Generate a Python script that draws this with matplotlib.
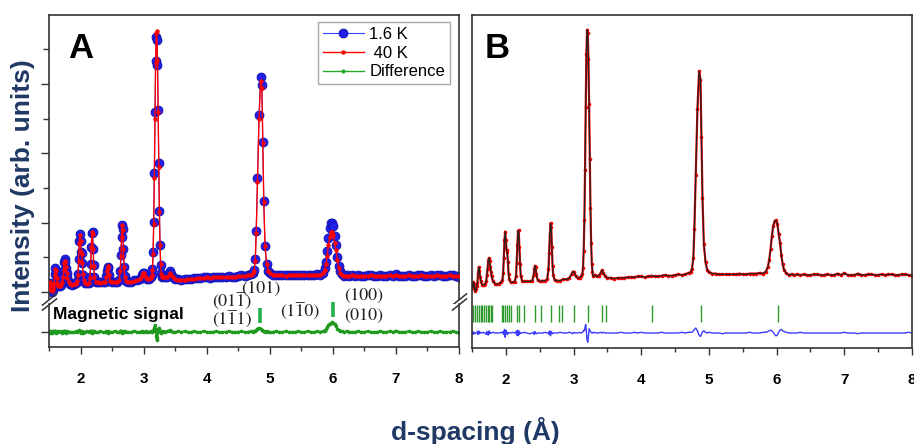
import numpy as np
import matplotlib
matplotlib.use("Agg")
import matplotlib.pyplot as plt
from matplotlib.ticker import MultipleLocator, FixedLocator

plt.rcParams['font.family'] = ['Liberation Sans', 'DejaVu Sans']

# d-spacing grid (A) in chunks
d = [1.50, 1.51, 1.52, 1.53, 1.54, 1.55, 1.56, 1.57, 1.58, 1.59, 1.60, 1.61, 1.62, 1.63,
     1.65, 1.67, 1.69, 1.71, 1.72, 1.73, 1.74, 1.75, 1.76, 1.77, 1.78, 1.79, 1.81, 1.84,
     1.87, 1.90, 1.93, 1.95, 1.96, 1.97, 1.98, 1.99, 2.00, 2.01, 2.02, 2.03, 2.04, 2.05,
     2.07, 2.10, 2.13, 2.15, 2.16, 2.17, 2.18, 2.19, 2.20, 2.21, 2.22, 2.24,
     2.27, 2.31, 2.35, 2.39, 2.41, 2.42, 2.43, 2.44, 2.45, 2.47,
     2.50, 2.54, 2.58, 2.61, 2.63, 2.64, 2.65, 2.66, 2.67, 2.68, 2.69, 2.70, 2.72,
     2.76, 2.80, 2.85, 2.90, 2.94, 2.97, 2.99, 3.01, 3.03, 3.06, 3.09, 3.11,
     3.13, 3.14, 3.15, 3.16, 3.17, 3.18, 3.19, 3.20, 3.21, 3.22, 3.23, 3.24, 3.25, 3.26, 3.27, 3.28, 3.29,
     3.31, 3.34, 3.37, 3.40, 3.42, 3.44, 3.47, 3.50, 3.55,
     3.60, 3.65, 3.70, 3.75, 3.80, 3.85, 3.90, 3.95, 4.00, 4.05, 4.10, 4.15, 4.20,
     4.25, 4.30, 4.35, 4.40, 4.45, 4.50, 4.55, 4.60, 4.65, 4.70, 4.73,
     4.75, 4.77, 4.785, 4.805, 4.83, 4.855, 4.875, 4.89, 4.905, 4.925, 4.95, 4.975,
     5.00, 5.05, 5.10, 5.15, 5.20, 5.25, 5.30, 5.35, 5.40, 5.45, 5.50, 5.55, 5.60, 5.65, 5.70, 5.75,
     5.80, 5.84, 5.87, 5.89, 5.91, 5.93, 5.95, 5.97, 5.99, 6.01, 6.03, 6.05, 6.07, 6.09, 6.11, 6.14, 6.18,
     6.22, 6.26, 6.30, 6.35, 6.40, 6.45, 6.50, 6.55, 6.60, 6.65, 6.70, 6.75, 6.80, 6.85, 6.90, 6.95, 7.00, 7.05, 7.10,
     7.15, 7.20, 7.25, 7.30, 7.35, 7.40, 7.45, 7.50, 7.55, 7.60, 7.65, 7.70, 7.75, 7.80, 7.85, 7.90, 7.95, 8.00]

# 40 K pattern (arb. units)
i_40k = [0.05, 0.04, 0.14, 0.10, 0.03, 0.01, 0.03, 0.06, 0.12, 0.24, 0.33, 0.30, 0.20, 0.13,
         0.09, 0.08, 0.10, 0.15, 0.22, 0.32, 0.42, 0.45, 0.43, 0.36, 0.27, 0.20, 0.14, 0.11,
         0.10, 0.11, 0.12, 0.16, 0.25, 0.45, 0.70, 0.82, 0.74, 0.58, 0.55, 0.42, 0.26, 0.17,
         0.13, 0.12, 0.13, 0.20, 0.38, 0.65, 0.86, 0.84, 0.62, 0.38, 0.22, 0.15,
         0.14, 0.13, 0.14, 0.15, 0.22, 0.31, 0.37, 0.34, 0.24, 0.16,
         0.14, 0.14, 0.15, 0.17, 0.30, 0.52, 0.80, 0.97, 0.90, 0.62, 0.36, 0.22, 0.16,
         0.15, 0.15, 0.16, 0.17, 0.19, 0.23, 0.28, 0.27, 0.21, 0.19, 0.19, 0.20,
         0.24, 0.32, 0.55, 0.98, 1.65, 2.50, 3.30, 3.74, 3.76, 3.35, 2.60, 1.80, 1.15, 0.68, 0.40, 0.26, 0.21,
         0.22, 0.21, 0.21, 0.24, 0.27, 0.25, 0.21, 0.19, 0.18,
         0.18, 0.18, 0.19, 0.19, 0.19, 0.20, 0.20, 0.20, 0.21, 0.20, 0.21, 0.21, 0.21,
         0.21, 0.22, 0.22, 0.22, 0.22, 0.23, 0.23, 0.23, 0.24, 0.25, 0.27,
         0.31, 0.45, 0.85, 1.59, 2.50, 3.05, 2.95, 2.15, 1.30, 0.66, 0.40, 0.30,
         0.27, 0.25, 0.24, 0.24, 0.24, 0.23, 0.24, 0.24, 0.24, 0.24, 0.24, 0.24, 0.24, 0.25, 0.25, 0.25,
         0.25, 0.27, 0.32, 0.40, 0.52, 0.68, 0.80, 0.86, 0.86, 0.82, 0.70, 0.60, 0.46, 0.35, 0.28, 0.25, 0.23,
         0.23, 0.23, 0.24, 0.23, 0.23, 0.23, 0.23, 0.23, 0.24, 0.23, 0.23, 0.23, 0.23, 0.23, 0.24, 0.23, 0.24, 0.23, 0.23,
         0.23, 0.24, 0.23, 0.23, 0.23, 0.24, 0.23, 0.23, 0.23, 0.23, 0.24, 0.23, 0.23, 0.23, 0.24, 0.23, 0.23, 0.23]

# magnetic signal: 1.6 K minus 40 K
mag = [0.00, 0.01, -0.01, 0.01, 0.00, -0.01, 0.00, 0.01, 0.00, 0.02, 0.01, -0.01, 0.00, 0.01,
       0.00, 0.01, 0.00, -0.01, 0.01, 0.00, 0.01, 0.02, 0.00, -0.01, 0.00, 0.01, 0.00, 0.00,
       0.00, 0.00, 0.01, 0.00, 0.01, 0.02, 0.03, 0.02, -0.01, 0.00, 0.01, 0.00, -0.01, 0.00,
       0.00, 0.01, 0.00, 0.01, 0.02, 0.00, -0.01, 0.02, 0.00, 0.01, 0.00, 0.00,
       0.00, 0.01, 0.00, 0.00, 0.01, 0.00, -0.01, 0.01, 0.00, 0.00,
       0.00, 0.01, 0.00, 0.00, 0.01, 0.02, 0.00, -0.01, 0.01, 0.00, 0.00, 0.01, 0.00,
       0.00, 0.00, 0.01, 0.00, 0.00, 0.01, 0.00, 0.00, 0.01, 0.00, 0.00, 0.01,
       0.00, 0.01, 0.02, 0.03, 0.06, 0.10, 0.04, -0.06, -0.12, -0.08, 0.03, 0.06, 0.02, 0.00, -0.01, 0.01, 0.00,
       0.01, 0.00, 0.01, 0.02, 0.03, 0.01, 0.00, 0.00, 0.01,
       0.00, 0.01, 0.00, 0.00, 0.01, 0.00, 0.00, 0.01, 0.00, 0.00, 0.00, 0.01, 0.00,
       0.00, 0.00, 0.01, 0.00, 0.00, 0.00, 0.01, 0.00, 0.00, 0.01, 0.00,
       0.01, 0.02, 0.03, 0.05, 0.06, 0.05, 0.03, 0.02, 0.01, 0.00, 0.01, 0.00,
       0.00, 0.00, 0.01, 0.00, 0.00, 0.01, 0.00, 0.00, 0.00, 0.01, 0.00, 0.00, 0.01, 0.00, 0.00, 0.01,
       0.00, 0.01, 0.02, 0.04, 0.07, 0.10, 0.12, 0.13, 0.14, 0.13, 0.11, 0.08, 0.05, 0.03, 0.02, 0.01, 0.00,
       0.01, 0.00, 0.00, 0.00, 0.01, 0.00, 0.00, 0.01, 0.00, 0.00, 0.00, 0.01, 0.00, 0.00, 0.01, 0.00, 0.02, 0.00, 0.00,
       0.00, 0.01, 0.00, 0.00, 0.01, 0.00, 0.00, 0.00, 0.01, 0.00, 0.00, 0.01, 0.00, 0.00, 0.00, 0.01, 0.00, -0.01]

# panel B: observed - calculated
fit_diff = [0.00, 0.02, -0.02, 0.01, 0.00, -0.01, 0.00, 0.01, 0.02, -0.02, 0.03, -0.01, 0.00, 0.01,
            0.00, 0.01, 0.00, -0.02, 0.02, 0.00, -0.03, 0.03, -0.01, 0.01, 0.00, 0.00, 0.01, 0.00,
            0.00, 0.00, 0.01, 0.00, 0.02, -0.02, 0.05, -0.06, 0.04, 0.00, -0.02, 0.01, 0.00, 0.00,
            0.00, 0.01, 0.00, 0.02, -0.03, 0.04, -0.04, 0.03, -0.02, 0.01, 0.00, 0.00,
            0.01, 0.00, -0.01, 0.00, 0.01, -0.02, 0.02, 0.00, -0.01, 0.00,
            0.00, 0.00, 0.01, 0.00, 0.01, -0.02, 0.03, -0.04, 0.02, 0.00, -0.01, 0.00, 0.00,
            0.00, 0.01, 0.00, 0.00, 0.01, 0.00, -0.01, 0.01, 0.00, 0.00, 0.01, 0.00,
            0.01, 0.02, 0.04, 0.03, 0.08, 0.12, 0.02, -0.10, -0.13, -0.05, 0.06, 0.04, 0.02, 0.01, 0.00, 0.01, 0.00,
            0.01, 0.00, 0.00, 0.01, 0.00, 0.01, 0.00, 0.00, 0.00,
            0.00, 0.00, 0.01, 0.00, 0.00, 0.00, 0.01, 0.00, 0.01, 0.00, 0.00, 0.00, 0.00,
            0.00, 0.01, 0.00, 0.00, 0.00, 0.00, 0.00, 0.01, 0.00, 0.01, 0.01,
            0.01, 0.03, 0.05, 0.07, 0.03, -0.03, -0.05, -0.02, 0.02, 0.03, 0.01, 0.00,
            0.01, 0.00, 0.00, 0.00, -0.01, 0.00, 0.00, 0.00, 0.00, 0.00, 0.00, 0.00, 0.01, 0.00, 0.00, 0.00,
            0.01, 0.01, 0.02, 0.03, 0.04, 0.03, 0.01, -0.02, -0.04, -0.03, 0.01, 0.04, 0.05, 0.03, 0.02, 0.01, 0.00,
            0.00, 0.00, 0.00, 0.01, 0.00, 0.00, 0.00, 0.00, 0.00, 0.00, 0.00, 0.00, 0.00, 0.00, 0.00, 0.00, 0.01, 0.00, 0.00,
            0.00, -0.01, 0.00, 0.00, 0.00, 0.00, 0.00, 0.00, 0.00, 0.00, 0.00, 0.00, 0.00, 0.00, 0.00, 0.00, 0.01, 0.00]

# Bragg reflection positions (panel B)
bragg_d = [1.52, 1.55, 1.58, 1.605, 1.63, 1.655, 1.68, 1.70, 1.73, 1.75, 1.78, 1.80,
           1.94, 1.965, 1.99, 2.015, 2.04, 2.07, 2.16, 2.20, 2.27, 2.43, 2.52, 2.67,
           2.78, 2.83, 3.01, 3.21, 3.42, 3.48, 4.16, 4.88, 6.02]

# magnetic reflections marked in panel A
mag_peaks = [4.84, 6.00]

x_ticks = [2, 3, 4, 5, 6, 7, 8]

d = np.array(d)
i_40k = np.array(i_40k)
mag = np.array(mag)
fit_diff = np.array(fit_diff)
assert len(d) == len(i_40k) == len(mag) == len(fit_diff)
i_16k = i_40k + mag

W, H = 914, 444
fig = plt.figure(figsize=(W / 100, H / 100), dpi=100)


def frac(x0, y0, x1, y1):
    return [x0 / W, 1 - y1 / H, (x1 - x0) / W, (y1 - y0) / H]


spine_c = '#333333'
navy = '#1F3864'

# ---------- panel A ----------
axu = fig.add_axes(frac(49, 15, 459, 299))
axl = fig.add_axes(frac(49, 304, 459, 347))

axu.plot(d, i_16k, '-o', color='#3344ff', lw=0.8, ms=6.4, mfc='#2020e8', mec='#1010b0',
         mew=0.6, label='1.6 K', zorder=2)
axu.plot(d, i_40k, '-', color='red', lw=1.0, marker='o', ms=2.2, mec='red', mfc='red',
         label=' 40 K', zorder=3)
axu.plot([], [], '-', color='#22aa22', lw=1.0, marker='o', ms=2, label='Difference')
axl.plot(d, mag, '-', color='#1f9a1f', lw=1.6, marker='o', ms=1.6, zorder=2)

axu.set_xlim(1.5, 8)
axl.set_xlim(1.5, 8)
axu.set_ylim(-0.101, 3.997)
axl.set_ylim(-0.216, 0.404)

for ax in (axu, axl):
    for s in ax.spines.values():
        s.set_color(spine_c)
        s.set_linewidth(1.2)
axu.spines['bottom'].set_visible(False)
axl.spines['top'].set_visible(False)

axu.set_xticks([])
axu.yaxis.set_major_locator(FixedLocator([0, 1, 2, 3]))
axu.yaxis.set_minor_locator(FixedLocator([0.5, 1.5, 2.5, 3.5]))
axu.tick_params(axis='y', which='major', direction='out', length=6, width=1, color=spine_c,
                labelleft=False)
axu.tick_params(axis='y', which='minor', direction='out', length=4, width=1, color=spine_c)
axl.yaxis.set_major_locator(FixedLocator([0]))
axl.tick_params(axis='y', which='major', direction='out', length=6, width=1, color=spine_c,
                labelleft=False)

axl.xaxis.set_major_locator(FixedLocator(x_ticks))
axl.xaxis.set_minor_locator(MultipleLocator(0.5))
axl.tick_params(axis='x', which='major', direction='out', length=5, width=1, color=spine_c,
                pad=13, labelsize=11)
axl.tick_params(axis='x', which='minor', direction='out', length=3, width=1, color=spine_c)
for lab in axl.get_xticklabels():
    lab.set_fontweight('bold')

# break marks
kw = dict(marker=[(-1, -0.8), (1, 0.8)], markersize=11, linestyle='none', color=spine_c,
          mec=spine_c, mew=1.1, clip_on=False)
axu.plot([0, 1], [0, 0], transform=axu.transAxes, **kw)
axl.plot([0, 1], [1, 1], transform=axl.transAxes, **kw)

# magnetic reflection markers
axl.vlines(mag_peaks, [0.13, 0.216], [0.346, 0.433], color='#22b14c', lw=2.6, clip_on=False,
           zorder=4)

leg = axu.legend(loc='upper right', bbox_to_anchor=(0.978, 0.975), borderaxespad=0,
                 fontsize=12, handlelength=2.5, labelspacing=0.22, handletextpad=0.3,
                 borderpad=0.3, fancybox=False, framealpha=1)
leg.get_frame().set_edgecolor('#aaaaaa')
leg.get_frame().set_linewidth(1.0)

# ---------- panel B ----------
axb = fig.add_axes(frac(472, 15, 912, 348))
axb.plot(d, i_16k, '-', color='red', lw=1.6, marker='o', ms=1.6, zorder=2)
axb.plot(d, i_16k, '-', color='#222222', lw=0.9, zorder=3)
axb.vlines(bragg_d, -0.43, -0.19, color='#2e9a2e', lw=1.0)
axb.plot(d, fit_diff - 0.585, '-', color='#3b3bff', lw=1.0)
axb.set_xlim(1.5, 8)
axb.set_ylim(-0.796, 3.888)
for s in axb.spines.values():
    s.set_color(spine_c)
    s.set_linewidth(1.2)
axb.set_yticks([])
axb.xaxis.set_major_locator(FixedLocator(x_ticks))
axb.xaxis.set_minor_locator(MultipleLocator(0.5))
axb.tick_params(axis='x', which='major', direction='out', length=5, width=1, color=spine_c,
                pad=13, labelsize=11)
axb.tick_params(axis='x', which='minor', direction='out', length=3, width=1, color=spine_c)
for lab in axb.get_xticklabels():
    lab.set_fontweight('bold')

# ---------- texts ----------
def ft(x, y, s, **k):
    fig.text(x / W, 1 - y / H, s, **k)


ft(68, 58, 'A', fontsize=25, fontweight='bold', va='baseline')
ft(485, 58, 'B', fontsize=25, fontweight='bold', va='baseline')
ft(53, 314, 'Magnetic signal', fontsize=12.5, fontweight='bold', va='center')

# Miller indices, overline drawn with a combining mark (U+0305)
mk = dict(fontsize=13, family=['STIXGeneral', 'DejaVu Serif'], ha='center', va='center',
          color='#222222')
bar = '\u0305'
ft(261, 289, '(101)', **mk)
ft(232, 302, '(011' + bar + ')', **mk)
ft(232, 320, '(11' + bar + '1)', **mk)
ft(300, 312, '(11' + bar + '0)', **mk)
ft(364, 296, '(100)', **mk)
ft(364, 316, '(010)', **mk)

ft(23, 186, 'Intensity (arb. units)', fontsize=19, fontweight='bold', color=navy,
   rotation=90, ha='center', va='center')
ft(475, 431, 'd-spacing (Å)', fontsize=19, fontweight='bold', color=navy,
   ha='center', va='center')

fig.savefig('out.png', dpi=100)
